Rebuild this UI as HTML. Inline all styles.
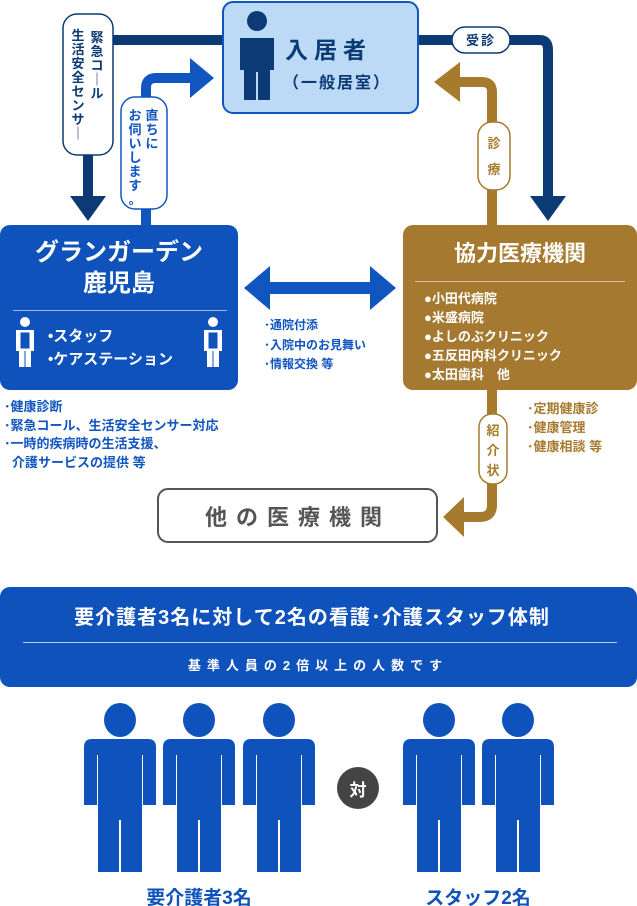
<!DOCTYPE html>
<html><head><meta charset="utf-8"><style>
html,body{margin:0;padding:0;background:#fff;width:637px;height:906px;overflow:hidden}
svg{display:block}
text{font-family:"Liberation Sans","Noto Sans CJK JP",sans-serif;font-weight:bold}
</style></head><body>
<svg width="637" height="906" viewBox="0 0 637 906" xmlns="http://www.w3.org/2000/svg">
<defs>
<g id="p">
<ellipse cx="0" cy="17" rx="16" ry="17" fill="#0f52bb"/>
<path d="M-36,44 Q-36,36 -28,36 L28,36 Q36,36 36,44 L36,102 L22,102 L22,169 L-22,169 L-22,102 L-36,102 Z" fill="#0f52bb"/>
<rect x="-1" y="117" width="2" height="52" fill="#fff"/>
<rect x="-23" y="52" width="1" height="50" fill="#fff"/>
<rect x="22" y="52" width="1" height="50" fill="#fff"/>
</g>
<g id="s">
<circle cx="0" cy="5" r="5" fill="#fff"/>
<path d="M-9,13 L9,13 L9,34 L6,34 L6,50 L-6,50 L-6,34 L-9,34Z" fill="#fff"/>
<rect x="-5" y="15" width="10" height="17" fill="#0f52bb" stroke="#fff" stroke-width="1"/>
<rect x="-0.5" y="34" width="1" height="16" fill="#0f52bb"/>
</g>
</defs>

<!-- navy connectors -->
<path d="M222,40 L88,40 L88,198" fill="none" stroke="#0b3a75" stroke-width="10"/>
<polygon points="70,196 106,196 88,221" fill="#0b3a75"/>
<path d="M418,40 L540,40 Q548,40 548,50 L548,198" fill="none" stroke="#0b3a75" stroke-width="10"/>
<polygon points="530,196 566,196 548,221" fill="#0b3a75"/>
<rect x="63" y="14" width="50" height="141" rx="14" fill="#fff" stroke="#0b3a75" stroke-width="1.5"/>
<g font-size="13" fill="#0b3a75" text-anchor="middle">
<text x="97" y="42">緊</text><text x="97" y="56">急</text><text x="97" y="70">コ</text><text x="97" y="84">｜</text><text x="97" y="98">ル</text>
<text x="78" y="40">生</text><text x="78" y="54">活</text><text x="78" y="68">安</text><text x="78" y="82">全</text><text x="78" y="96">セ</text><text x="78" y="110">ン</text><text x="78" y="124">サ</text><text x="78" y="138">｜</text>
</g>
<rect x="452" y="27" width="58" height="26" rx="13" fill="#fff" stroke="#0b3a75" stroke-width="1.5"/>
<text x="481" y="45" font-size="13" fill="#0b3a75" text-anchor="middle" letter-spacing="2">受診</text>

<!-- blue arrow up -->
<path d="M146,225 L146,88 Q146,78 156,78 L192,78" fill="none" stroke="#1155c0" stroke-width="10"/>
<polygon points="190,58 190,98 214,78" fill="#1155c0"/>
<rect x="121" y="97" width="46" height="112" rx="14" fill="#fff" stroke="#1155c0" stroke-width="1.5"/>
<g font-size="13" fill="#1155c0" text-anchor="middle">
<text x="152" y="120">直</text><text x="152" y="134">ち</text><text x="152" y="148">に</text>
<text x="135" y="120">お</text><text x="135" y="134">伺</text><text x="135" y="148">い</text><text x="135" y="162">し</text><text x="135" y="176">ま</text><text x="135" y="190">す</text><text x="135" y="204">。</text>
</g>

<!-- gold arrow up -->
<path d="M492,225 L492,92 Q492,82 482,82 L458,82" fill="none" stroke="#a77b2e" stroke-width="10"/>
<polygon points="460,62 460,102 434,82" fill="#a77b2e"/>
<rect x="478" y="122" width="32" height="68" rx="14" fill="#fff" stroke="#a77b2e" stroke-width="1.5"/>
<text x="494" y="148" font-size="13" fill="#a77b2e" text-anchor="middle">診</text>
<text x="494" y="174" font-size="13" fill="#a77b2e" text-anchor="middle">療</text>

<!-- top box -->
<rect x="223" y="2" width="195" height="111" rx="10" fill="#bcdaf5" stroke="#1155c0" stroke-width="2"/>
<circle cx="257" cy="21" r="10" fill="#0b3a75"/>
<path d="M240,38 L274,38 L274,70 L270,70 L270,100 L258,100 L258,72 L256,72 L256,100 L244,100 L244,70 L240,70Z" fill="#0b3a75"/>
<text x="285" y="58" font-size="23" fill="#0b3a75" letter-spacing="6">入居者</text>
<text x="283" y="88" font-size="16" fill="#0b3a75" letter-spacing="2">（一般居室）</text>

<!-- blue box -->
<rect x="0" y="225" width="238" height="165" rx="10" fill="#0f52bb"/>
<text x="119" y="260" font-size="24" fill="#fff" text-anchor="middle">グランガーデン</text>
<text x="119" y="291" font-size="24" fill="#fff" text-anchor="middle">鹿児島</text>
<rect x="13" y="310" width="214" height="1" fill="#9cbbe8"/>
<use href="#s" x="25" y="317"/>
<use href="#s" x="213" y="317"/>
<text x="48" y="341" font-size="15" fill="#fff">•スタッフ</text>
<text x="48" y="364" font-size="15" fill="#fff">•ケアステーション</text>

<!-- double arrow -->
<rect x="262" y="282" width="115" height="12" fill="#1155c0"/>
<polygon points="244,288 270,266 270,310" fill="#1155c0"/>
<polygon points="396,288 370,266 370,310" fill="#1155c0"/>
<text x="264" y="329" font-size="12" fill="#1155c0">･通院付添</text>
<text x="264" y="349" font-size="12" fill="#1155c0">･入院中のお見舞い</text>
<text x="264" y="368" font-size="12" fill="#1155c0">･情報交換 等</text>

<!-- gold box -->
<rect x="403" y="225" width="234" height="165" rx="10" fill="#a57a30"/>
<text x="520" y="261" font-size="22" fill="#fff" text-anchor="middle">協力医療機関</text>
<rect x="415" y="281" width="210" height="1" fill="#d8c39a"/>
<g font-size="13" fill="#fff">
<text x="424" y="303">●小田代病院</text>
<text x="424" y="322">●米盛病院</text>
<text x="424" y="341">●よしのぶクリニック</text>
<text x="424" y="360">●五反田内科クリニック</text>
<text x="424" y="379">●太田歯科　他</text>
</g>

<!-- below texts -->
<g font-size="13" fill="#1155c0">
<text x="4" y="411">･健康診断</text>
<text x="4" y="430">･緊急コール、生活安全センサー対応</text>
<text x="4" y="448">･一時的疾病時の生活支援、</text>
<text x="12" y="467">介護サービスの提供 等</text>
</g>
<g font-size="13" fill="#a77b2e">
<text x="527" y="413">･定期健康診</text>
<text x="527" y="432">･健康管理</text>
<text x="527" y="451">･健康相談 等</text>
</g>

<!-- gold down to other -->
<path d="M492,390 L492,505 Q492,517 480,517 L462,517" fill="none" stroke="#a77b2e" stroke-width="10"/>
<polygon points="464,497 464,537 443,517" fill="#a77b2e"/>
<rect x="479" y="414" width="28" height="70" rx="13" fill="#fff" stroke="#a77b2e" stroke-width="1.5"/>
<text x="493" y="435" font-size="13" fill="#a77b2e" text-anchor="middle">紹</text>
<text x="493" y="455" font-size="13" fill="#a77b2e" text-anchor="middle">介</text>
<text x="493" y="475" font-size="13" fill="#a77b2e" text-anchor="middle">状</text>

<rect x="158" y="489" width="279" height="53" rx="10" fill="#fff" stroke="#555" stroke-width="2"/>
<text x="298" y="525" font-size="22" fill="#555" text-anchor="middle" letter-spacing="9">他の医療機関</text>

<!-- banner -->
<rect x="0" y="587" width="637" height="100" rx="10" fill="#0f52bb"/>
<text x="312" y="624" font-size="20" fill="#fff" text-anchor="middle" letter-spacing="1">要介護者3名に対して2名の看護･介護スタッフ体制</text>
<rect x="23" y="642" width="594" height="1" fill="#b9cff0"/>
<text x="318" y="670" font-size="13" fill="#fff" text-anchor="middle" letter-spacing="6">基準人員の2倍以上の人数です</text>

<use href="#p" x="120" y="703"/>
<use href="#p" x="199" y="703"/>
<use href="#p" x="279" y="703"/>
<use href="#p" x="439" y="703"/>
<use href="#p" x="518" y="703"/>
<circle cx="358" cy="788" r="21" fill="#444"/>
<text x="358" y="796" font-size="17" fill="#fff" text-anchor="middle">対</text>
<text x="199" y="904" font-size="19" fill="#0f52bb" text-anchor="middle">要介護者3名</text>
<text x="478" y="904" font-size="19" fill="#0f52bb" text-anchor="middle">スタッフ2名</text>
</svg>
</body></html>
